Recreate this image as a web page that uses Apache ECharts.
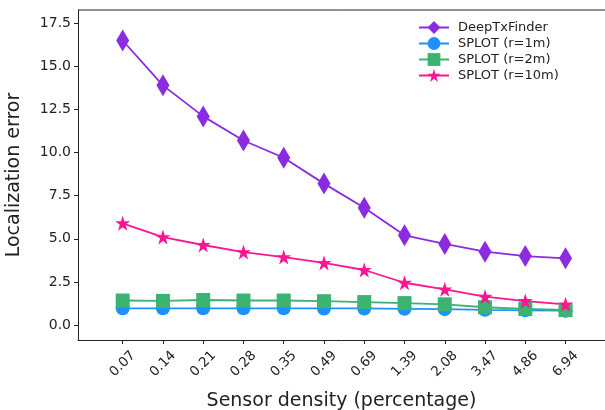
<!DOCTYPE html>
<html>
<head>
<meta charset="utf-8">
<script src="https://cdn.jsdelivr.net/npm/echarts@6/dist/echarts.min.js"></script>
<style>
html,body{margin:0;padding:0;background:#fff;}
#chart{width:605px;height:410px;}
</style>
</head>
<body>
<div id="chart"></div>
<script>
const categories = ['0.07','0.14','0.21','0.28','0.35','0.49','0.69','1.39','2.08','3.47','4.86','6.94'];
const deepTxFinder = [16.5, 13.9, 12.1, 10.7, 9.7, 8.2, 6.8, 5.2, 4.7, 4.25, 4.0, 3.87];
const splotR1 = [0.97, 0.97, 0.97, 0.97, 0.97, 0.96, 0.96, 0.94, 0.92, 0.88, 0.85, 0.83];
const splotR2 = [1.42, 1.40, 1.45, 1.42, 1.42, 1.38, 1.33, 1.27, 1.20, 1.03, 0.93, 0.87];
const splotR10 = [5.9, 5.1, 4.64, 4.23, 3.94, 3.6, 3.19, 2.45, 2.07, 1.64, 1.39, 1.2];
const yTicks = [0, 2.5, 5, 7.5, 10, 12.5, 15, 17.5];
const seriesNames = ['DeepTxFinder', 'SPLOT (r=1m)', 'SPLOT (r=2m)', 'SPLOT (r=10m)'];

const toPairs = arr => arr.map((v, i) => [i, v]);
const xIdx = categories.map((c, i) => i);
const font = 'DejaVu Sans';

const chart = echarts.init(document.getElementById('chart'), null, {renderer: 'canvas'});

function mkSeries(name, data, color, symbol, size) {
  return {
    name: name, type: 'line', data: toPairs(data),
    symbol: symbol, symbolSize: size, showSymbol: true,
    lineStyle: {color: color, width: 1.8},
    itemStyle: {color: color},
    emphasis: {disabled: true},
    animation: false
  };
}

chart.setOption({
  animation: false,
  grid: {left: 78, right: 0, top: 10, bottom: 70, containLabel: false, outerBoundsMode: 'none'},
  legend: {
    left: 413, top: 16, orient: 'vertical', itemGap: 3, itemWidth: 30, itemHeight: 16,
    textStyle: {fontFamily: font, fontSize: 13, color: '#222', padding: [0, 0, 0, 4]},
    data: seriesNames
  },
  xAxis: {
    type: 'value', min: -1.11, max: 11.98,
    name: 'Sensor density (percentage)', nameLocation: 'middle', nameGap: 52,
    nameTextStyle: {fontFamily: font, fontSize: 19, color: '#222'},
    axisLine: {show: true, onZero: false, lineStyle: {color: '#222', width: 1}},
    axisTick: {show: true, customValues: xIdx, length: 4, lineStyle: {color: '#222'}},
    axisLabel: {
      customValues: xIdx, rotate: 45, align: 'center', verticalAlign: 'middle', margin: 24,
      fontFamily: font, fontSize: 13.5, color: '#222',
      formatter: v => categories[Math.round(v)]
    },
    splitLine: {show: false}
  },
  yAxis: {
    type: 'value', min: -0.87, max: 18.27,
    name: 'Localization error', nameLocation: 'middle', nameGap: 54,
    nameTextStyle: {fontFamily: font, fontSize: 19, color: '#222'},
    axisLine: {show: true, onZero: false, lineStyle: {color: '#222', width: 1}},
    axisTick: {show: true, customValues: yTicks, length: 4, lineStyle: {color: '#222'}},
    axisLabel: {
      customValues: yTicks, margin: 7,
      fontFamily: font, fontSize: 14, color: '#222',
      formatter: v => v.toFixed(1)
    },
    splitLine: {show: false}
  },
  graphic: [{
    type: 'line', shape: {x1: 78, y1: 10, x2: 605, y2: 10},
    style: {stroke: '#222', lineWidth: 1}, silent: true
  }],
  series: [
    mkSeries(seriesNames[0], deepTxFinder, '#8A2BE2', 'diamond', [13, 22]),
    mkSeries(seriesNames[1], splotR1, '#1E90FF', 'circle', 14),
    mkSeries(seriesNames[2], splotR2, '#3CB371', 'rect', 14),
    mkSeries(seriesNames[3], splotR10, '#FF1493', 'path://M50,0 L61.8,35.4 L100,35.4 L69.1,57.3 L80.9,95.1 L50,72.4 L19.1,95.1 L30.9,57.3 L0,35.4 L38.2,35.4 Z', 15)
  ]
});
</script>
</body>
</html>
